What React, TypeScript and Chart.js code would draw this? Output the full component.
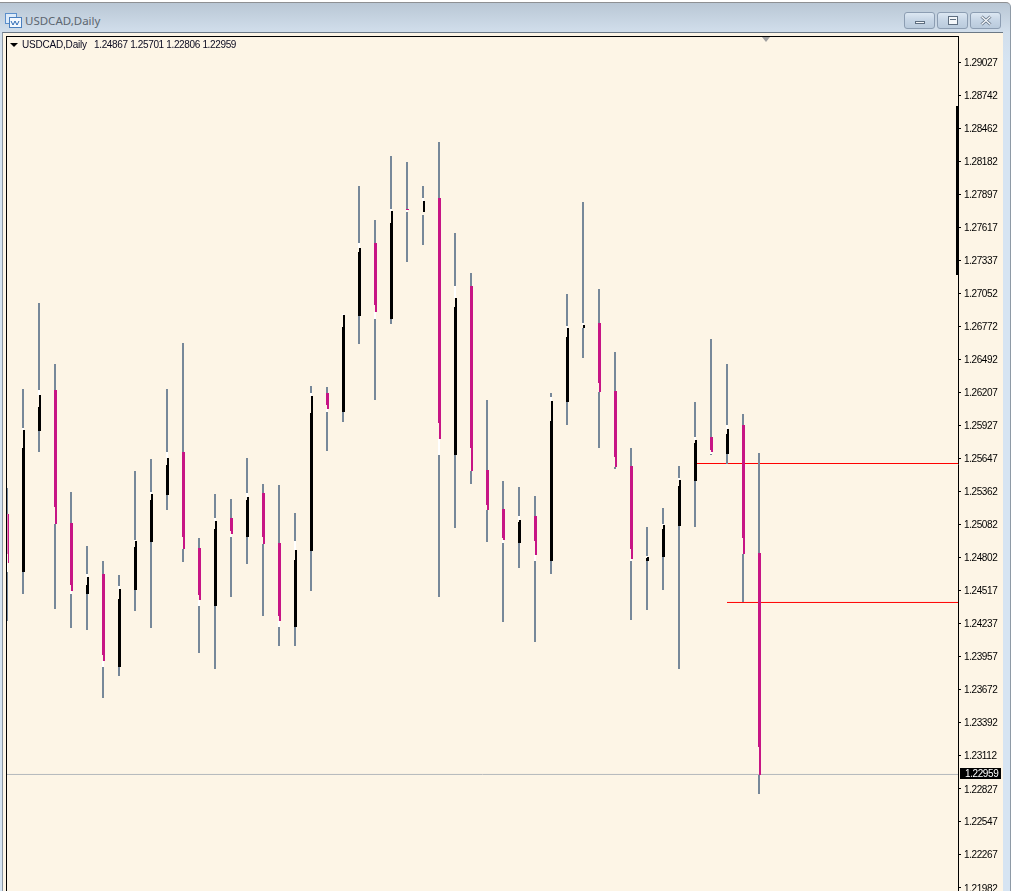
import React, { useEffect, useRef } from "react";
import { Chart, registerables } from "chart.js";

Chart.register(...registerables);

const symbolTitle = "USDCAD,Daily";
const ohlcText = "1.24867 1.25701 1.22806 1.22959";

const tickValues = [
  1.29027, 1.28742, 1.28462, 1.28182, 1.27897, 1.27617, 1.27337, 1.27052, 1.26772, 1.26492, 1.26207, 1.25927, 1.25647,
  1.25362, 1.25082, 1.24802, 1.24517, 1.24237, 1.23957, 1.23672, 1.23392, 1.23112, 1.22827, 1.22547, 1.22267, 1.21982,
];

const highs = [
  1.25394, 1.26239, 1.26973, 1.26452, 1.2536, 1.24899, 1.24771, 1.24651, 1.25539, 1.25641,
  1.26239, 1.26631, 1.24967, 1.25343, 1.253, 1.2565, 1.25428, 1.25419, 1.2518, 1.26264,
  1.26256, 1.26879, 1.27971, 1.27681, 1.28228, 1.28176, 1.27971, 1.28347, 1.2757, 1.27229,
  1.26145, 1.25454, 1.25402, 1.25326, 1.26205, 1.2705, 1.27835, 1.27092, 1.26555, 1.25735,
  1.25061, 1.25223, 1.25582, 1.26128, 1.26666, 1.26452, 1.26026, 1.25693,
];
const upperWickEnds = [
  1.25172, 1.25906, 1.2623, 1.2623, 1.25095, 1.2466, 1.2466, 1.24558, 1.2495, 1.2536,
  1.25701, 1.25701, 1.24882, 1.25138, 1.25138, 1.25351, 1.25351, 1.24925, 1.24942, 1.26205,
  1.26205, 1.26879, 1.27485, 1.27485, 1.27775, 1.27775, 1.27869, 1.27869, 1.27118, 1.27118,
  1.25548, 1.25215, 1.25155, 1.25155, 1.26171, 1.26777, 1.26802, 1.26802, 1.26222, 1.25582,
  1.24814, 1.25087, 1.25479, 1.25829, 1.25829, 1.25932, 1.25932, 1.24839,
];
const bodyTops = [
  1.25172, 1.25735, 1.26085, 1.2623, 1.25095, 1.24566, 1.2466, 1.24447, 1.2489, 1.25292,
  1.2559, 1.25701, 1.24882, 1.25044, 1.25138, 1.25292, 1.25351, 1.24925, 1.24779, 1.26034,
  1.26205, 1.26768, 1.27408, 1.27485, 1.27656, 1.27775, 1.2775, 1.27869, 1.26939, 1.27118,
  1.25548, 1.25215, 1.25104, 1.25155, 1.25966, 1.26683, 1.26759, 1.26802, 1.26222, 1.25582,
  1.24797, 1.25044, 1.25411, 1.25778, 1.25829, 1.25855, 1.25932, 1.24839,
];
const bodyBottoms = [
  1.24831, 1.24677, 1.2588, 1.25232, 1.24566, 1.24489, 1.23969, 1.23866, 1.24523, 1.24933,
  1.25334, 1.24976, 1.24481, 1.24387, 1.25027, 1.24976, 1.24976, 1.24301, 1.24208, 1.24856,
  1.26102, 1.26043, 1.26862, 1.26956, 1.26836, 1.27767, 1.2775, 1.25949, 1.25676, 1.25735,
  1.25249, 1.24967, 1.24925, 1.24942, 1.24771, 1.26128, 1.26759, 1.2629, 1.25658, 1.24873,
  1.24771, 1.24805, 1.2507, 1.25454, 1.25718, 1.25684, 1.24967, 1.23183,
];
const tailEnds = [
  1.24754, 1.25889, 1.26188, 1.25087, 1.24515, 1.24634, 1.23917, 1.24532, 1.24942, 1.25343,
  1.2565, 1.24873, 1.24438, 1.25112, 1.25001, 1.25317, 1.24916, 1.24259, 1.24865, 1.26179,
  1.26068, 1.2687, 1.27442, 1.26896, 1.27758, 1.27767, 1.27843, 1.25812, 1.27016, 1.25539,
  1.25206, 1.2495, 1.25121, 1.24822, 1.26136, 1.26759, 1.26785, 1.26213, 1.25573, 1.24788,
  1.24805, 1.25078, 1.25462, 1.25804, 1.25701, 1.25898, 1.24831, 1.22944,
];
const lowerWickStarts = [
  1.24677, 1.24677, 1.2588, 1.25087, 1.24489, 1.24489, 1.23866, 1.23866, 1.24523, 1.24933,
  1.25334, 1.24873, 1.24387, 1.24387, 1.24976, 1.24976, 1.24916, 1.24208, 1.24208, 1.24856,
  1.26043, 1.26043, 1.26862, 1.26836, 1.26836, 1.2775, 1.27724, 1.25676, 1.25676, 1.25539,
  1.25206, 1.24925, 1.24925, 1.24771, 1.24771, 1.26128, 1.26759, 1.26213, 1.25573, 1.24771,
  1.24771, 1.24805, 1.2507, 1.25454, 1.25684, 1.25684, 1.24831, 1.22944,
];
const lows = [
  1.24259, 1.24489, 1.25701, 1.24361, 1.24199, 1.24182, 1.23602, 1.23789, 1.24344, 1.24199,
  1.25206, 1.24762, 1.23986, 1.23849, 1.24464, 1.24745, 1.24301, 1.24045, 1.24045, 1.24515,
  1.2571, 1.25957, 1.26623, 1.26145, 1.26794, 1.27323, 1.27468, 1.24464, 1.25052, 1.25428,
  1.24933, 1.2425, 1.24711, 1.2408, 1.2466, 1.25932, 1.26503, 1.25735, 1.25556, 1.24267,
  1.24353, 1.24523, 1.23849, 1.25061, 1.25676, 1.25599, 1.24421, 1.22782,
];

const edgeBarRange = [1.27212, 1.28654];
const redLevelA = { fromIndex: 43, price: 1.25603 };
const redLevelB = { fromIndex: 45, price: 1.24417 };
const bidLine = 1.22949;
const bidLabel = "1.22959";

const OLD_LACE = "#FDF5E6";
const WICK = "#778899";
const BEAR = "#C71585";
const BULL = "#000000";
const AXIS_FONT = "Liberation Sans";

const indexMax = 59.4375;
const priceMin = 1.219543;
const priceMax = 1.292432;

const isBull = tailEnds.map((t, i) => t > bodyTops[i]);
const bodyColors = isBull.map((b) => (b ? BULL : BEAR));

const shiftPlugin = {
  id: "shiftPlugin",
  beforeDatasetDraw(chart: any, args: any) {
    const shift = chart.data.datasets[args.index].shiftX;
    chart.ctx.save();
    if (shift) chart.ctx.translate(shift, 0);
  },
  afterDatasetDraw(chart: any) {
    chart.ctx.restore();
  },
};

const framePlugin = {
  id: "framePlugin",
  beforeDraw(chart: any) {
    const { ctx } = chart;
    ctx.letterSpacing = "-0.4px";
    const axis = chart.scales.y;
    if (!axis.__nudged) {
      const drawLabels = axis.drawLabels.bind(axis);
      axis.drawLabels = (area: any) => {
        ctx.save();
        ctx.translate(0, 1);
        drawLabels(area);
        ctx.restore();
      };
      axis.__nudged = true;
    }
  },
  afterDatasetsDraw(chart: any) {
    const { ctx, chartArea } = chart;
    ctx.save();
    ctx.fillStyle = "#000";
    ctx.fillRect(chartArea.left - 1, chartArea.top - 1, chartArea.right - chartArea.left + 2, 1);
    ctx.fillRect(chartArea.left - 1, chartArea.top - 1, 1, chartArea.bottom - chartArea.top + 1);
    ctx.restore();
  },
  afterDraw(chart: any) {
    const { ctx, chartArea, scales } = chart;
    const y = Math.floor(scales.y.getPixelForValue(bidLine));
    ctx.save();
    ctx.fillStyle = "#000";
    ctx.fillRect(chartArea.right + 2, y - 6, 41, 11);
    ctx.fillStyle = "#fff";
    ctx.font = `10px "${AXIS_FONT}"`;
    ctx.textBaseline = "middle";
    ctx.textAlign = "left";
    ctx.fillText(bidLabel, chartArea.right + 7, y);
    ctx.restore();
  },
};

function CaptionButton({ left, width, children }: any) {
  return (
    <div
      style={{
        position: "absolute",
        left,
        top: 12,
        width,
        height: 17,
        boxSizing: "border-box",
        border: "1px solid #8C9DB2",
        borderRadius: 3,
        background: "linear-gradient(#DCE7F2, #C6D5E5 50%, #B9CADC)",
      }}
    >
      {children}
    </div>
  );
}

export default function App() {
  const ref = useRef<HTMLCanvasElement | null>(null);

  useEffect(() => {
    if (!ref.current) return;
    const barBase = { type: "bar", grouped: false, inflateAmount: 0, borderWidth: 0, borderSkipped: false };
    const chart = new Chart(ref.current, {
      type: "bar",
      data: {
        datasets: [
          {
            ...barBase,
            label: "Tail",
            order: 1,
            barThickness: 2,
            shiftX: 1,
            backgroundColor: bodyColors,
            data: tailEnds.map((t, i) => ({ x: i, y: isBull[i] ? [bodyTops[i], t] : [t, bodyBottoms[i]] })),
          },
          {
            ...barBase,
            label: "Body",
            order: 2,
            barThickness: 3,
            shiftX: 0.5,
            backgroundColor: bodyColors,
            data: bodyTops.map((t, i) => ({ x: i, y: [bodyBottoms[i], t] })),
          },
          {
            ...barBase,
            label: "Upper wick",
            order: 3,
            barThickness: 2,
            backgroundColor: WICK,
            data: highs.map((h, i) => ({ x: i, y: [upperWickEnds[i], h] })),
          },
          {
            ...barBase,
            label: "Lower wick",
            order: 4,
            barThickness: 2,
            backgroundColor: WICK,
            data: lows.map((l, i) => ({ x: i, y: [l, lowerWickStarts[i]] })),
          },
          {
            ...barBase,
            label: "Wick gap",
            order: 5,
            barThickness: 2,
            backgroundColor: "#FFFFFF",
            data: tailEnds.map((t, i) => ({ x: i, y: isBull[i] ? [t, upperWickEnds[i]] : [lowerWickStarts[i], t] })),
          },
          {
            ...barBase,
            label: "Edge bar",
            order: 6,
            barThickness: 2,
            backgroundColor: BULL,
            data: [{ x: 59.375, y: edgeBarRange }],
          },
          {
            type: "line",
            label: "Level A",
            order: 7,
            borderColor: "#FF0000",
            borderWidth: 1,
            pointRadius: 0,
            data: [
              { x: redLevelA.fromIndex, y: redLevelA.price },
              { x: indexMax, y: redLevelA.price },
            ],
          },
          {
            type: "line",
            label: "Level B",
            order: 8,
            borderColor: "#FF0000",
            borderWidth: 1,
            pointRadius: 0,
            data: [
              { x: redLevelB.fromIndex, y: redLevelB.price },
              { x: indexMax, y: redLevelB.price },
            ],
          },
          {
            type: "line",
            label: "Bid",
            order: 9,
            borderColor: "#B4B8BC",
            borderWidth: 1,
            pointRadius: 0,
            data: [
              { x: 0, y: bidLine },
              { x: indexMax, y: bidLine },
            ],
          },
        ],
      } as any,
      options: {
        animation: false,
        responsive: false,
        maintainAspectRatio: false,
        layout: { padding: { left: 7, top: 37, right: 0, bottom: 0 } },
        plugins: { legend: { display: false }, title: { display: false }, tooltip: { enabled: false } },
        scales: {
          x: { type: "linear", display: false, min: 0, max: indexMax, offset: false },
          y: {
            type: "linear",
            position: "right",
            min: priceMin,
            max: priceMax,
            border: { display: true, color: "#000", width: 1 },
            grid: { drawOnChartArea: false, drawTicks: true, tickLength: 3, tickColor: "#000", tickWidth: 1 },
            ticks: {
              autoSkip: false,
              padding: 3,
              color: "#000",
              font: { family: AXIS_FONT, size: 10 },
              callback: (v: any) => Number(v).toFixed(5),
            },
            afterBuildTicks: (axis: any) => {
              axis.ticks = tickValues.map((value) => ({ value }));
            },
            afterFit: (axis: any) => {
              axis.width = 54;
              axis.paddingTop = 0;
              axis.paddingBottom = 0;
            },
          },
        },
      } as any,
      plugins: [shiftPlugin, framePlugin],
    } as any);
    return () => chart.destroy();
  }, []);

  return (
    <div style={{ position: "fixed", left: 0, top: 0, width: 1012, height: 891, overflow: "hidden", background: "#fff" }}>
      {/* window frame */}
      <div
        style={{
          position: "absolute",
          left: 0,
          top: 2,
          width: 1011,
          height: 889,
          boxSizing: "border-box",
          borderTop: "1px solid #8E9093",
          borderRight: "1px solid #8E9AA6",
          borderTopRightRadius: 5,
          background: "linear-gradient(#B9C7D5, #D2DFEC 30px, #D6E4F2 60px)",
        }}
      />
      {/* title icon */}
      <svg style={{ position: "absolute", left: 5, top: 13 }} width="17" height="15" viewBox="0 0 17 15">
        <rect x="0.5" y="0.5" width="11" height="10" fill="#DDEBFA" stroke="#5B8FCB" />
        <rect x="4.5" y="4.5" width="12" height="10" fill="#F3F8FE" stroke="#4A7FBE" />
        <path d="M6 8 L8 12 L10 8 L12 12 L14 8" fill="none" stroke="#2E6BB5" />
      </svg>
      <div
        style={{
          position: "absolute",
          left: 25,
          top: 13,
          fontFamily: "Noto Sans",
          fontSize: 11.5,
          lineHeight: "16px",
          color: "#5C6670",
        }}
      >
        {symbolTitle}
      </div>
      <CaptionButton left={904} width={31}>
        <div style={{ position: "absolute", left: 10, top: 8, width: 10, height: 3, background: "#F4F7FA", border: "1px solid #5E6E80", boxSizing: "border-box" }} />
      </CaptionButton>
      <CaptionButton left={937} width={31}>
        <div style={{ position: "absolute", left: 10, top: 3, width: 10, height: 9, background: "#F4F7FA", border: "1px solid #5E6E80", boxSizing: "border-box" }}>
          <div style={{ margin: "2px 1px", height: 1, background: "#5E6E80" }} />
        </div>
      </CaptionButton>
      <CaptionButton left={970} width={31}>
        <svg style={{ position: "absolute", left: 9, top: 2 }} width="12" height="11" viewBox="0 0 12 11">
          <path d="M1.5 1.5 L10.5 9.5 M10.5 1.5 L1.5 9.5" stroke="#5E6E80" strokeWidth="3" />
          <path d="M1.5 1.5 L10.5 9.5 M10.5 1.5 L1.5 9.5" stroke="#F4F7FA" strokeWidth="1.4" />
        </svg>
      </CaptionButton>
      {/* client area */}
      <div
        style={{
          position: "absolute",
          left: 2,
          top: 32,
          width: 1001,
          height: 859,
          boxSizing: "border-box",
          borderTop: "1px solid #6B7885",
          borderLeft: "1px solid #8A96A3",
          background: OLD_LACE,
        }}
      />
      <canvas ref={ref} width={1012} height={891} style={{ position: "absolute", left: 0, top: 0, width: 1012, height: 891, display: "block" }} />
      {/* shift marker */}
      <div
        style={{
          position: "absolute",
          left: 762,
          top: 37,
          width: 0,
          height: 0,
          borderLeft: "4.5px solid transparent",
          borderRight: "4.5px solid transparent",
          borderTop: "5px solid #A0A0A0",
        }}
      />
      {/* chart header */}
      <div
        style={{
          position: "absolute",
          left: 10,
          top: 43,
          width: 0,
          height: 0,
          borderLeft: "4px solid transparent",
          borderRight: "4px solid transparent",
          borderTop: "4px solid #000",
        }}
      />
      <div
        style={{
          position: "absolute",
          left: 22,
          top: 38,
          fontFamily: AXIS_FONT,
          fontSize: 10,
          lineHeight: "13px",
          letterSpacing: "-0.2px",
          color: "#0A0A20",
          whiteSpace: "pre",
        }}
      >
        {symbolTitle}
        <span style={{ position: "absolute", left: 72, letterSpacing: "-0.35px" }}>{ohlcText}</span>
      </div>
    </div>
  );
}
